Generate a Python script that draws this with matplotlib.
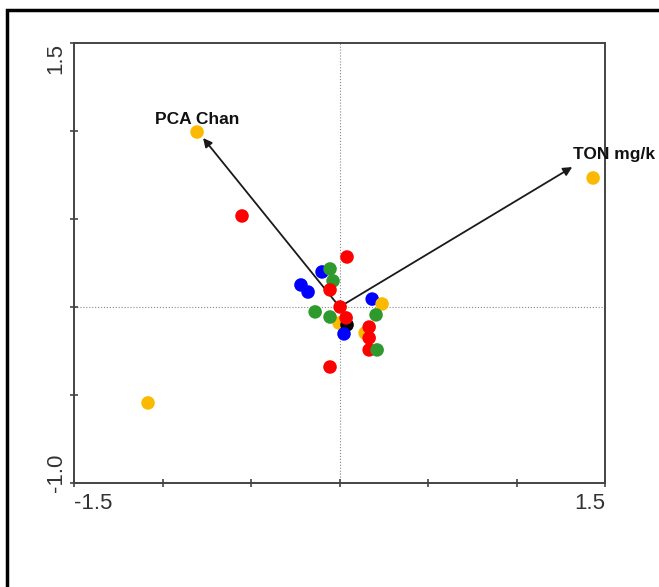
import matplotlib
matplotlib.use("Agg")
import matplotlib.pyplot as plt
from matplotlib.patches import Rectangle

plt.rcParams['font.family'] = ['Liberation Sans', 'DejaVu Sans']

# Sample scores (draw order matters where circles overlap)
site_x = [-0.805, 1.432, -1.082, -0.003, 0.144,
          0.042,
          -0.099, -0.218, -0.178, 0.184, 0.025,
          0.240,
          -0.054, -0.037, -0.138, -0.054, 0.206,
          0.042, -0.054, 0.003, 0.037, 0.167, 0.167, 0.167, -0.054, -0.551,
          0.212]
site_y = [0.994, 0.733, -0.545, -0.091, -0.148,
          -0.102,
          0.199, 0.125, 0.085, 0.045, -0.153,
          0.017,
          0.216, 0.148, -0.028, -0.057, -0.045,
          0.284, 0.097, 0.000, -0.062, -0.114, -0.176, -0.244, -0.341, 0.517,
          -0.244]
site_group = ['orange'] * 5 + ['black'] + ['blue'] * 5 + ['orange'] + \
             ['green'] * 5 + ['red'] * 9 + ['green']

group_colors = {'orange': '#fbb900', 'black': '#000000', 'blue': '#0000ff',
                'green': '#2e9a2e', 'red': '#ff0000'}

# Environmental variable arrows
env_names = ['PCA Chan', 'TON mg/k']
env_x = [-0.771, 1.314]
env_y = [0.960, 0.795]
env_label_x = [-1.042, 1.319]
env_label_y = [1.063, 0.869]

fig = plt.figure(figsize=(6.59, 5.87), dpi=100)
ax = fig.add_axes([0.1123, 0.1772, 0.806, 0.7496])

ax.axhline(0, color='#888888', lw=0.8, ls=':', zorder=1)
ax.axvline(0, color='#888888', lw=0.8, ls=':', zorder=1)

for name, ex, ey, lx, ly in zip(env_names, env_x, env_y, env_label_x, env_label_y):
    ax.annotate('', xy=(ex, ey), xytext=(0, 0),
                arrowprops=dict(arrowstyle='-|>', color='#1a1a1a', lw=1.3,
                                mutation_scale=13, shrinkA=0, shrinkB=0),
                zorder=2)
    ax.text(lx, ly, name, fontsize=12.5, fontweight='bold', color='#111111',
            ha='left', va='center', clip_on=False, zorder=5)

ax.scatter(site_x, site_y, s=95, c=[group_colors[g] for g in site_group],
           edgecolors='none', zorder=3, clip_on=False)

ax.set_xlim(-1.5, 1.5)
ax.set_ylim(-1.0, 1.5)
ax.set_xticks([-1.5, -1.0, -0.5, 0, 0.5, 1.0, 1.5])
ax.set_yticks([-1.0, -0.5, 0, 0.5, 1.0, 1.5])
ax.set_xticklabels([])
ax.set_yticklabels([])
ax.tick_params(direction='inout', length=6, width=1.2, color='#444444')
for sp in ax.spines.values():
    sp.set_color('#444444')
    sp.set_linewidth(1.4)

# End labels only, kept inside the axis range
lab = dict(fontsize=16, color='#333333')
ax.text(-1.5, -0.022, '-1.5', transform=ax.get_xaxis_transform(),
        ha='left', va='top', **lab)
ax.text(1.5, -0.022, '1.5', transform=ax.get_xaxis_transform(),
        ha='right', va='top', **lab)
ax.text(-0.014, 1.5, '1.5', transform=ax.get_yaxis_transform(),
        ha='right', va='top', rotation=90, **lab)
ax.text(-0.014, -1.05, '-1.0', transform=ax.get_yaxis_transform(),
        ha='right', va='bottom', rotation=90, clip_on=False, **lab)

# Outer frame running off the right and bottom edges
fig.patches.append(Rectangle((7 / 659, -0.2), 1.3, 1.2 - 10 / 587,
                             transform=fig.transFigure, fill=False,
                             edgecolor='black', lw=2.5))

fig.savefig('out.png', dpi=100)
